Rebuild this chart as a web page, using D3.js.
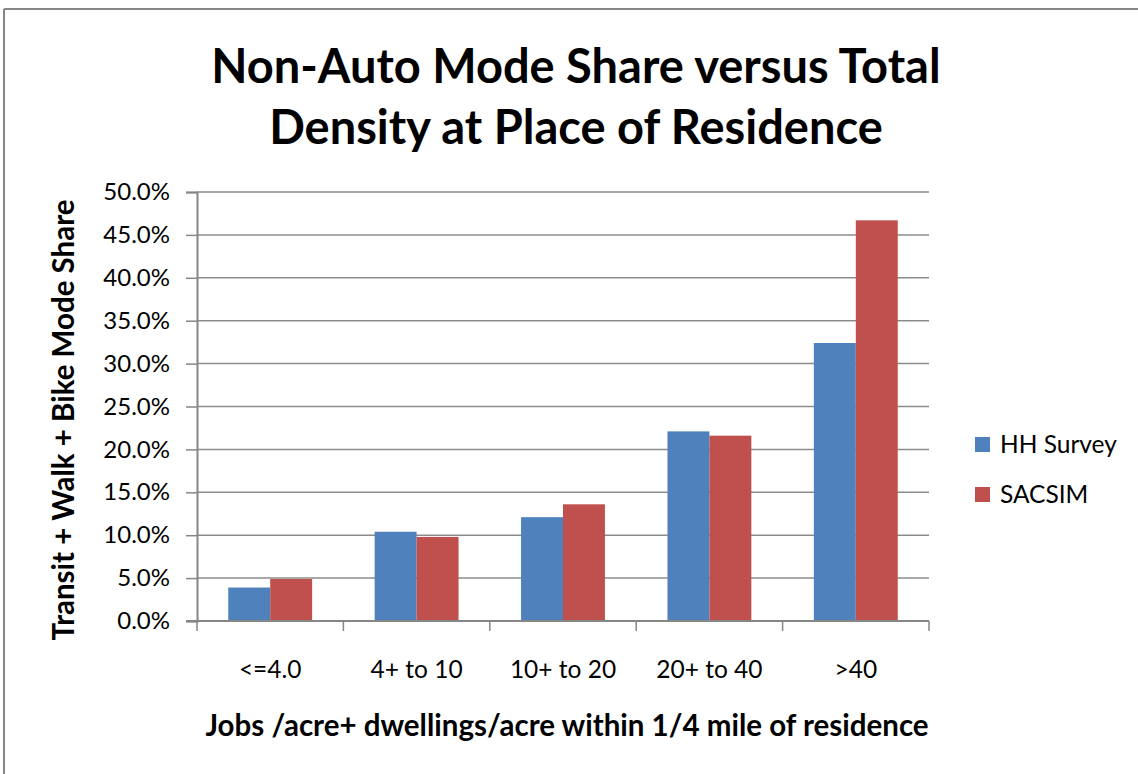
<!DOCTYPE html>
<html>
<head>
<meta charset="utf-8">
<script src="https://cdn.jsdelivr.net/npm/d3@7"></script>
<style>
  body { margin: 0; background: #fff; }
  text { font-family: Lato, "Open Sans", sans-serif; fill: #000; }
</style>
</head>
<body>
<div id="chart"></div>
<script>
var categories = ["<=4.0", "4+ to 10", "10+ to 20", "20+ to 40", ">40"];
var hhSurvey = [3.9, 10.4, 12.1, 22.1, 32.4];
var sacsim = [4.9, 9.8, 13.6, 21.6, 46.7];
var seriesNames = ["HH Survey", "SACSIM"];
var seriesColors = ["#4F81BD", "#C0504D"];
var yTicks = [0, 5, 10, 15, 20, 25, 30, 35, 40, 45, 50];

var width = 1138,
    height = 774;

var svg = d3.select("#chart")
  .append("svg")
  .attr("width", width)
  .attr("height", height)

// outer chart border (only top and left visible)
svg.append("line")
  .attr("x1", 4).attr("y1", 9).attr("x2", width).attr("y2", 9)
  .attr("stroke", "#868686").attr("stroke-width", 2)
svg.append("line")
  .attr("x1", 4).attr("y1", 9).attr("x2", 4).attr("y2", height)
  .attr("stroke", "#868686").attr("stroke-width", 2)

var plotLeft = 197, plotRight = 929, plotTop = 192, plotBottom = 621;

var x = d3.scaleBand().domain(categories).range([plotLeft, plotRight]).paddingInner(0).paddingOuter(0)
var y = d3.scaleLinear().domain([0, 50]).range([plotBottom, plotTop])

var barW = x.bandwidth() * 0.2865

// gridlines
svg.append("g").selectAll("line")
  .data(yTicks.filter(function(d) { return d > 0 }))
  .enter().append("line")
  .attr("x1", plotLeft).attr("x2", plotRight)
  .attr("y1", function(d) { return y(d) }).attr("y2", function(d) { return y(d) })
  .attr("stroke", "#8c8c8c").attr("stroke-width", 1.5)

// bars
var data = [];
categories.forEach(function(c, i) {
  data.push({ cat: c, s: 0, v: hhSurvey[i] })
  data.push({ cat: c, s: 1, v: sacsim[i] })
})

svg.append("g").selectAll("rect")
  .data(data)
  .enter().append("rect")
  .attr("x", function(d) {
    return x(d.cat) + x.bandwidth() / 2 - barW + d.s * barW
  })
  .attr("y", function(d) { return y(d.v) })
  .attr("width", barW)
  .attr("height", function(d) { return y(0) - y(d.v) })
  .attr("fill", function(d) { return seriesColors[d.s] })

// y axis
var yAxis = d3.axisLeft(y).tickValues(yTicks).tickSize(11).tickPadding(16)
  .tickFormat(function(d) { return d.toFixed(1) + "%" })
var gy = svg.append("g").attr("transform", "translate(" + plotLeft + ",0)").call(yAxis)
gy.select(".domain").attr("stroke", "#868686").attr("stroke-width", 2)
gy.selectAll(".tick line").attr("stroke", "#868686").attr("stroke-width", 1.5)
gy.selectAll(".tick text").attr("font-size", 24).attr("font-family", "Lato, sans-serif").attr("fill", "#000")

// x axis
var xBounds = categories.map(function(c) { return x(c) }).concat([plotRight])
var gx = svg.append("g")
gx.append("line")
  .attr("x1", plotLeft - 11).attr("x2", plotRight)
  .attr("y1", plotBottom).attr("y2", plotBottom)
  .attr("stroke", "#868686").attr("stroke-width", 2)
gx.selectAll(".xt")
  .data(xBounds)
  .enter().append("line")
  .attr("class", "xt")
  .attr("x1", function(d) { return d }).attr("x2", function(d) { return d })
  .attr("y1", plotBottom).attr("y2", plotBottom + 10)
  .attr("stroke", "#868686").attr("stroke-width", 1.5)
gx.selectAll(".xl")
  .data(categories)
  .enter().append("text")
  .attr("class", "xl")
  .attr("x", function(d) { return x(d) + x.bandwidth() / 2 })
  .attr("y", 678)
  .attr("text-anchor", "middle")
  .attr("font-size", 24.5)
  .text(function(d) { return d })

// titles
var title = svg.append("text")
  .attr("x", 576).attr("y", 83)
  .attr("text-anchor", "middle")
  .attr("font-size", 47)
  .attr("font-weight", "bold")
title.append("tspan").attr("x", 576).text("Non-Auto Mode Share versus Total")
title.append("tspan").attr("x", 576).attr("dy", 61).text("Density at Place of Residence")

svg.append("text")
  .attr("x", 567).attr("y", 736)
  .attr("text-anchor", "middle")
  .attr("font-size", 29.5)
  .attr("font-weight", "bold")
  .text("Jobs /acre+ dwellings/acre within 1/4 mile of residence")

svg.append("text")
  .attr("transform", "translate(74," + 420 + ") rotate(-90)")
  .attr("text-anchor", "middle")
  .attr("font-size", 29.5)
  .attr("font-weight", "bold")
  .text("Transit + Walk + Bike Mode Share")

// legend
var legend = svg.append("g").selectAll("g")
  .data(seriesNames)
  .enter().append("g")
  .attr("transform", function(d, i) { return "translate(975," + (437 + i * 50) + ")" })
legend.append("rect")
  .attr("width", 15).attr("height", 15)
  .attr("fill", function(d, i) { return seriesColors[i] })
legend.append("text")
  .attr("x", 25).attr("y", 16)
  .attr("font-size", 24.5)
  .text(function(d) { return d })
</script>
</body>
</html>
